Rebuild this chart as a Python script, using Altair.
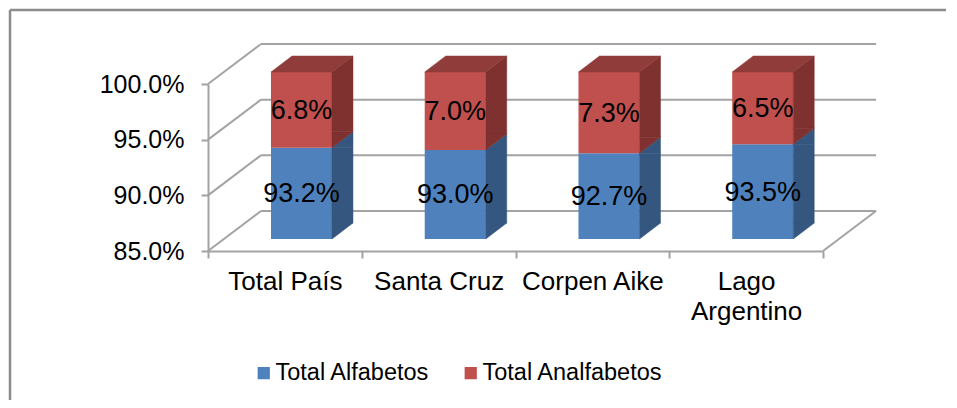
import altair as alt
import pandas as pd

# ---- data ----
categories = ["Total País", "Santa Cruz", "Corpen Aike", "Lago Argentino"]
alfabetos = [93.2, 93.0, 92.7, 93.5]
analfabetos = [6.8, 7.0, 7.3, 6.5]
series = ["Total Alfabetos", "Total Analfabetos"]
y_ticks = [85, 90, 95, 100]
Y_MIN, Y_MAX = 85, 100

# ---- styling / geometry of the pseudo-3D frame (pixels) ----
W, H = 615, 167
DEPTH_X, DEPTH_Y = 53, -40          # back wall offset
BAR_DX, BAR_DY = 16.6, -12          # front face of bars offset
BAR_W = 61
SIDE_W = 21
FONT = "Liberation Sans"
GRID = "#A3A3A3"
GW = 2
BLUE, RED = "#4F81BD", "#C0504D"
SIDE = {series[0]: "#35567F", series[1]: "#7F312F"}
RED_TOP = "#8F3C3A"

UP_TRI = "M47.1,-12 L68.1,-28 L68.1,-12 Z"
LOW_TRI = "M47.1,-28 L68.1,-28 L47.1,-12 Z"
TOP_FACE = "M-13.9,-12 L47.1,-12 L68.1,-28 L7.1,-28 Z"

rows = []
for c, a, n in zip(categories, alfabetos, analfabetos):
    rows.append(dict(cat=c, series=series[0], value=a, start=Y_MIN, end=a))
    rows.append(dict(cat=c, series=series[1], value=n, start=a, end=round(a + n, 6)))
df = pd.DataFrame(rows)
df["mid"] = (df["start"] + df["end"]) / 2
df["label"] = df["value"].map(lambda v: f"{v:.1f}%")

ticks_df = pd.DataFrame({"v": y_ticks})
floor_df = pd.DataFrame({"v": [Y_MIN]})
dummy = pd.DataFrame({"d": [0]})

x_scale = alt.Scale(domain=categories, paddingInner=0, paddingOuter=0)
y_scale = alt.Scale(domain=[Y_MIN, Y_MAX], nice=False, zero=False)

x_axis = alt.Axis(
    title=None, labelAngle=0, tickBand="extent", tickSize=7,
    tickColor=GRID, tickWidth=GW, domainColor=GRID, domainWidth=GW,
    labelFont=FONT, labelFontSize=26, labelColor="black", labelPadding=10,
    labelLineHeight=30, labelOverlap=False,
    labelExpr="length(datum.label) > 12 ? split(datum.label, ' ') : datum.label",
)
y_axis = alt.Axis(
    title=None, values=y_ticks, grid=False, tickSize=7,
    tickColor=GRID, tickWidth=GW, domainColor=GRID, domainWidth=GW,
    labelFont=FONT, labelFontSize=25, labelColor="black", labelPadding=17,
    labelExpr="format(datum.value, '.1f') + '%'",
)


def X():
    return alt.X("cat:N", scale=x_scale, sort=categories, axis=x_axis)


def Y(field):
    return alt.Y(field, scale=y_scale, axis=y_axis)


# outer border (top & left edges)
border_top = alt.Chart(dummy).mark_rule(color="#8C8C8C", strokeWidth=2.5).encode(
    x=alt.value(-198), x2=alt.value(738), y=alt.value(-74), y2=alt.value(-74))
border_left = alt.Chart(dummy).mark_rule(color="#8C8C8C", strokeWidth=2.5).encode(
    x=alt.value(-198), x2=alt.value(-198), y=alt.value(-74), y2=alt.value(316))

# back wall gridlines
back_grid = alt.Chart(ticks_df).mark_rule(
    color=GRID, strokeWidth=GW, yOffset=DEPTH_Y, y2Offset=DEPTH_Y
).encode(
    x=alt.value(DEPTH_X), x2=alt.value(W + DEPTH_X), y=Y("v:Q"), y2="v:Q")

# side wall diagonals
diagonals = alt.Chart(ticks_df).mark_rule(
    color=GRID, strokeWidth=GW, y2Offset=DEPTH_Y
).encode(x=alt.value(0), x2=alt.value(DEPTH_X), y=Y("v:Q"), y2="v:Q")

floor_right = alt.Chart(floor_df).mark_rule(
    color=GRID, strokeWidth=GW, y2Offset=DEPTH_Y
).encode(x=alt.value(W), x2=alt.value(W + DEPTH_X), y=Y("v:Q"), y2="v:Q")

# front faces (with legend)
front = alt.Chart(df).mark_bar(
    width=BAR_W, xOffset=BAR_DX, x2Offset=BAR_DX, yOffset=BAR_DY, y2Offset=BAR_DY,
    strokeWidth=0,
).encode(
    x=X(), y=Y("start:Q"), y2="end:Q",
    color=alt.Color(
        "series:N",
        scale=alt.Scale(domain=series, range=[BLUE, RED]),
        legend=alt.Legend(
            title=None, orient="none", legendX=44, legendY=277,
            direction="horizontal", symbolType="square", symbolSize=150,
            symbolStrokeWidth=0, labelFont=FONT, labelFontSize=23.5,
            labelColor="black", columnPadding=29, labelOffset=0, padding=0,
            labelLimit=400,
        ),
    ),
)

side_layers = []
for s in series:
    col = SIDE[s]
    flt = alt.datum.series == s
    side_layers.append(
        alt.Chart(df).transform_filter(flt).mark_bar(
            width=SIDE_W, xOffset=57.6, yOffset=BAR_DY, y2Offset=BAR_DY - 16,
            color=col, stroke=col, strokeWidth=0.5,
        ).encode(x=X(), y=Y("end:Q"), y2="start:Q")
    )
    side_layers.append(
        alt.Chart(df).transform_filter(flt).mark_point(
            shape=UP_TRI, size=4, filled=True, opacity=1,
            fill=col, stroke=col, strokeWidth=0.5,
        ).encode(x=X(), y=Y("end:Q"))
    )
    side_layers.append(
        alt.Chart(df).transform_filter(flt).mark_point(
            shape=LOW_TRI, size=4, filled=True, opacity=1,
            fill=col, stroke=col, strokeWidth=0.5,
        ).encode(x=X(), y=Y("start:Q"))
    )

top_face = alt.Chart(df).transform_filter(alt.datum.series == series[-1]).mark_point(
    shape=TOP_FACE, size=4, filled=True, opacity=1,
    fill=RED_TOP, stroke=RED_TOP, strokeWidth=0.5,
).encode(x=X(), y=Y("end:Q"))

labels = alt.Chart(df).mark_text(
    font=FONT, fontSize=27, color="black", xOffset=BAR_DX, yOffset=BAR_DY + 1,
    baseline="middle", align="center",
).encode(x=X(), y=Y("mid:Q"), text="label:N")

chart = alt.layer(
    border_top, border_left, back_grid, diagonals, floor_right,
    front, *side_layers, top_face, labels,
).properties(
    width=W, height=H, padding=0, background="white",
).configure_view(stroke=None)

chart.save("out.html", embed_options={"renderer": "svg", "actions": False})
